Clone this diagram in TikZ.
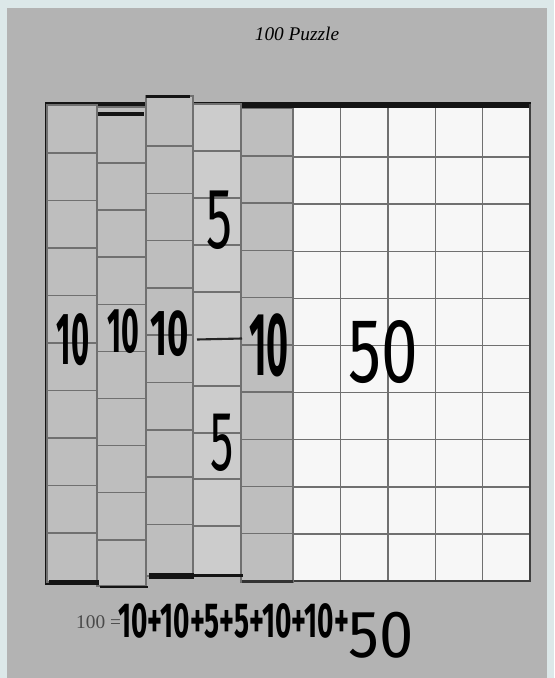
\documentclass[tikz,border=0pt]{standalone}
\usepackage{fontspec}
\setmainfont{Liberation Serif}
\newfontfamily\handfont{Fira Sans}
\definecolor{edgeblue}{HTML}{DCE8E9}
\definecolor{paper}{HTML}{B3B3B3}
\definecolor{stripgray}{HTML}{BEBEBE}
\definecolor{striplight}{HTML}{CCCCCC}
\definecolor{gridwhite}{HTML}{F7F7F7}
\definecolor{gridline}{HTML}{707070}
\definecolor{inkgray}{HTML}{4A4A4A}
\tikzset{
  strip/.style={fill=stripgray, draw=gridline, line width=0.8pt},
  cellline/.style={draw=gridline, line width=0.8pt},
  blackbar/.style={fill=black!92},
  hand/.style={inner sep=0pt, text=black},
}

\begin{document}
\begin{tikzpicture}[x=0.02cm, y=-0.02cm]
% page
\fill[edgeblue] (0,0) rectangle (554,678);
\fill[paper] (7,8) rectangle (547,678);
\useasboundingbox (0,0) rectangle (554,678);

\node[font=\itshape\fontsize{11}{13}\selectfont] (title) at (297,34) {100 Puzzle};

% frame of the board
\fill[blackbar] (45,102) rectangle (531,108.5);
\fill[blackbar] (45,102) rectangle (48.5,585);

% the 50 part
\fill[gridwhite] (293,108.5) rectangle (530,580);
\foreach \c in {1,...,4}
  \draw[cellline] ({293+47.4*\c},108.5) -- ({293+47.4*\c},580);
\foreach \r in {1,...,9}
  \draw[cellline] (293,{110+47.1*\r}) -- (530,{110+47.1*\r});
\draw[black!75, line width=1pt] (530,104) -- (530,581) -- (293,581);

% strips of ten
\foreach \xa/\xb/\ya/\yb/\yf/\yp in {47/97/105/582/153/47.5, 97/146/107/586/163/47.1,
    146/193/96/576/146/47.3, 241/293/108.5/582/156/47.2}{
  \filldraw[strip] (\xa,\ya) rectangle (\xb,\yb);
  \foreach \k in {0,...,8}
    \draw[cellline] (\xa,{\yf+\yp*\k}) -- (\xb,{\yf+\yp*\k});
}

% strip cut in two fives
\filldraw[strip, fill=striplight] (193,104) rectangle (241,575);
\foreach \yy in {151,198,245,292,386,433,479,526}
  \draw[cellline] (193,\yy) -- (241,\yy);
\draw[black!85, line width=1.2pt] (197,339.5) -- (242,338.5);

% dark edges of the strips
\fill[blackbar] (98,112) rectangle (144,116.5);
\fill[blackbar] (146,95.5) rectangle (190,98.5);
\fill[blackbar] (49,580) rectangle (99,585);
\fill[blackbar] (100,585.5) rectangle (148,587.5);
\fill[blackbar] (149,573) rectangle (194,579);
\fill[blackbar] (194,574) rectangle (243,577);
\fill[black!80] (242,580) rectangle (293,582.5);

% handwritten numbers
\node[hand, font=\handfont\bfseries\fontsize{42}{42}\selectfont] (ten1) at (73,340) {\scalebox{0.42}[1]{10}};
\node[hand, font=\handfont\bfseries\fontsize{36}{36}\selectfont] (ten2) at (123,331) {\scalebox{0.48}[1]{10}};
\node[hand, font=\handfont\bfseries\fontsize{37}{37}\selectfont] (ten3) at (170,334) {\scalebox{0.56}[1]{10}};
\node[hand, font=\handfont\fontsize{49}{49}\selectfont] (fiveup) at (219,220) {\scalebox{0.6}[1]{5}};
\node[hand, font=\handfont\fontsize{48}{48}\selectfont] (fivedown) at (222,443) {\scalebox{0.55}[1]{5}};
\node[hand, font=\handfont\bfseries\fontsize{51}{51}\selectfont] (ten5) at (269,345) {\scalebox{0.42}[1]{10}};
\node[hand, font=\handfont\fontsize{52}{52}\selectfont] (fifty) at (383,352) {\scalebox{0.72}[1]{50}};

% the sum
\node[font=\fontsize{11}{13}\selectfont, text=inkgray, anchor=base west] (hundred) at (70,628) {100 =};
\node[hand, font=\handfont\bfseries\fontsize{28}{28}\selectfont, anchor=west] (sum) at (118,621) {\scalebox{0.57}[1]{10+10+5+5+10+10+}};
\node[hand, font=\handfont\fontsize{38}{38}\selectfont, anchor=west] (sumfifty) at (348,635) {\scalebox{0.92}[1]{50}};
\end{tikzpicture}
\end{document}
